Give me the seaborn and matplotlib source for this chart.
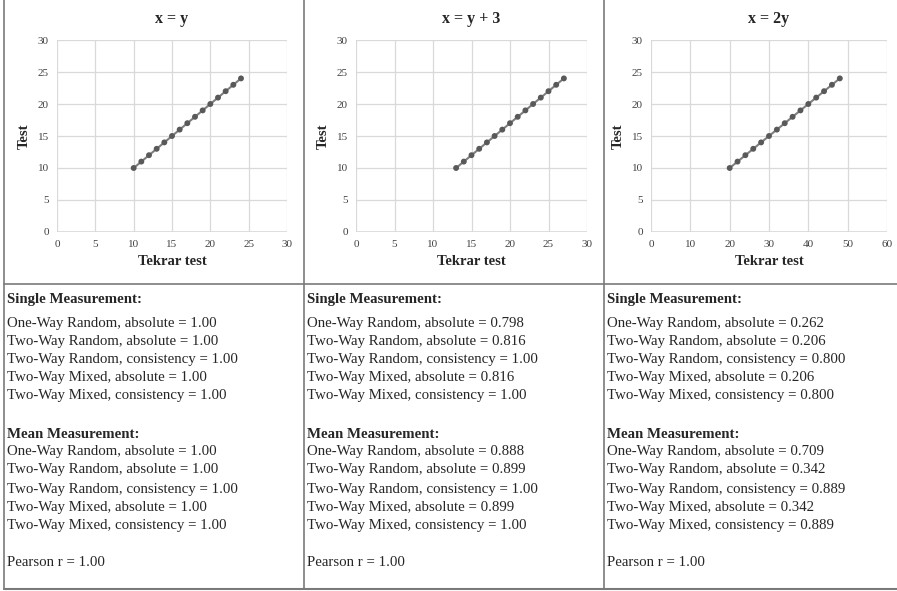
import pandas as pd
import seaborn as sns
import matplotlib.pyplot as plt
from matplotlib.lines import Line2D

# veriler
test_vals = [10, 11, 12, 13, 14, 15, 16, 17, 18, 19, 20, 21, 22, 23, 24]
retest_a = [10, 11, 12, 13, 14, 15, 16, 17, 18, 19, 20, 21, 22, 23, 24]
retest_b = [13, 14, 15, 16, 17, 18, 19, 20, 21, 22, 23, 24, 25, 26, 27]
retest_c = [20, 22, 24, 26, 28, 30, 32, 34, 36, 38, 40, 42, 44, 46, 48]

titles = ["x = y", "x = y + 3", "x = 2y"]
xmax = [30, 30, 60]
xstep = [5, 5, 10]

labels = ["One-Way Random, absolute", "Two-Way Random, absolute",
          "Two-Way Random, consistency", "Two-Way Mixed, absolute",
          "Two-Way Mixed, consistency"]
single_a = ["1.00", "1.00", "1.00", "1.00", "1.00"]
single_b = ["0.798", "0.816", "1.00", "0.816", "1.00"]
single_c = ["0.262", "0.206", "0.800", "0.206", "0.800"]
mean_a = ["1.00", "1.00", "1.00", "1.00", "1.00"]
mean_b = ["0.888", "0.899", "1.00", "0.899", "1.00"]
mean_c = ["0.709", "0.342", "0.889", "0.342", "0.889"]
pearson = ["1.00", "1.00", "1.00"]

sns.set_style("white")
plt.rcParams['font.family'] = ['Liberation Serif', 'DejaVu Serif']

W, H = 897, 591
fig = plt.figure(figsize=(W / 100, H / 100), dpi=100)


def px(x, y):
    return x / W, 1 - y / H


# grafik alanlari (piksel): sol, sag, ust, alt
kutular = [(57, 287, 40, 232), (356, 587, 40, 232), (651, 887, 40, 232)]
retests = [retest_a, retest_b, retest_c]

for i in range(3):
    l, r, t, b = kutular[i]
    ax = fig.add_axes([l / W, 1 - b / H, (r - l) / W, (b - t) / H])
    df = pd.DataFrame({"retest": retests[i], "test": test_vals})
    sns.lineplot(data=df, x="retest", y="test", ax=ax, color="#7f7f7f", lw=1.5)
    sns.scatterplot(data=df, x="retest", y="test", ax=ax, color="#595959",
                    s=18, edgecolor="none", zorder=3)
    ax.set_xlim(0, xmax[i])
    ax.set_ylim(0, 30)
    ax.set_xticks(range(0, xmax[i] + 1, xstep[i]))
    ax.set_yticks(range(0, 31, 5))
    ax.grid(True, color="#d9d9d9", lw=0.9)
    for s in ax.spines.values():
        s.set_visible(False)
    ax.axhline(0, color="#d9d9d9", lw=1.2, zorder=1)
    ax.tick_params(length=0, labelsize=8, colors="#404040", pad=6)
    ax.set_xlabel("Tekrar test", fontsize=10.5, fontweight="bold", labelpad=4)
    ax.set_ylabel("Test", fontsize=10.5, fontweight="bold", labelpad=5)
    ax.set_title(titles[i], fontsize=11.5, fontweight="bold", pad=12)

# tablo cizgileri
cizgi = "#7a7a7a"
for x0 in [3.5, 304, 603.5]:
    fig.add_artist(Line2D([x0 / W, x0 / W], [1 - 0 / H, 1 - 589 / H], color=cizgi, lw=1.2))
fig.add_artist(Line2D([3.5 / W, 897 / W], [1 - 284 / H, 1 - 284 / H], color=cizgi, lw=1.2))
fig.add_artist(Line2D([3.5 / W, 897 / W], [1 - 589 / H, 1 - 589 / H], color=cizgi, lw=1.5))

singles = [single_a, single_b, single_c]
means = [mean_a, mean_b, mean_c]
sol = [7, 307, 607]
satir = [322, 340, 358, 377, 395]
satir2 = [451, 469, 488, 506, 525]
fs = 10.7
for i in range(3):
    x0 = sol[i]
    fig.text(*px(x0, 299), "Single Measurement:", fontsize=fs, fontweight="bold", va="center")
    for j in range(5):
        fig.text(*px(x0, satir[j] + 1), f"{labels[j]} = {singles[i][j]}", fontsize=fs, va="center")
    fig.text(*px(x0, 434), "Mean Measurement:", fontsize=fs, fontweight="bold", va="center")
    for j in range(5):
        fig.text(*px(x0, satir2[j] + 1), f"{labels[j]} = {means[i][j]}", fontsize=fs, va="center")
    fig.text(*px(x0, 563), f"Pearson r = {pearson[i]}", fontsize=fs, va="center")

fig.savefig("out.png", dpi=100)
